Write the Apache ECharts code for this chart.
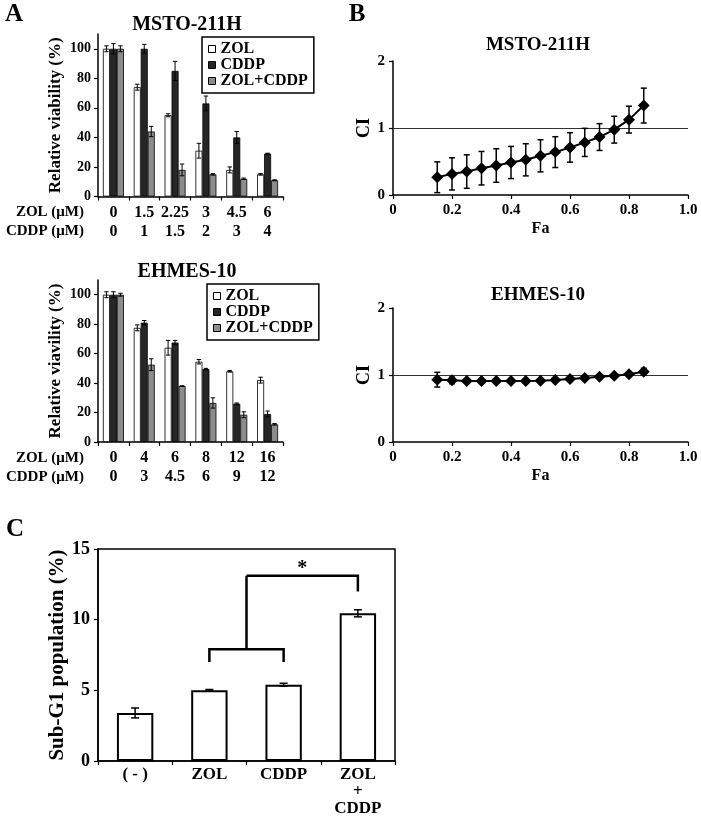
<!DOCTYPE html>
<html><head><meta charset="utf-8">
<script src="https://cdn.jsdelivr.net/npm/echarts@6/dist/echarts.min.js"></script>
<style>html,body{margin:0;padding:0;background:#fff}#c{width:701px;height:817px}</style>
</head><body><div id="c"></div>
<script>
// ---------- Panel A : MSTO-211H ----------
const mstoZolDose = ['0','1.5','2.25','3','4.5','6'];
const mstoCddpDose = ['0','1','1.5','2','3','4'];
const mstoZol = [100, 74, 55, 31, 18, 15];
const mstoZolErr = [2, 2, 1, 5, 2, 0.5];
const mstoCddp = [100, 100, 85, 63, 40, 29];
const mstoCddpErr = [3.5, 3, 6.5, 5, 4, 0.3];
const mstoCombo = [100, 44, 18, 15, 12, 11];
const mstoComboErr = [2, 3.5, 4, 0.5, 0.5, 0.3];
// ---------- Panel A : EHMES-10 ----------
const ehmesZolDose = ['0','4','6','8','12','16'];
const ehmesCddpDose = ['0','3','4.5','6','9','12'];
const ehmesZol = [100, 77.5, 64, 54.5, 48, 42];
const ehmesZolErr = [2, 2, 5, 1.5, 0.5, 2];
const ehmesCddp = [100, 81, 67.5, 49.5, 26, 19];
const ehmesCddpErr = [2, 1.5, 1.5, 0.5, 0.5, 2];
const ehmesCombo = [100, 52.5, 38, 26.5, 18.5, 12];
const ehmesComboErr = [1, 4, 0.2, 3.5, 2, 0.5];
const viabilityTicks = [0, 20, 40, 60, 80, 100];
// ---------- Panel B : CI vs Fa ----------
const faValues = [0.15,0.2,0.25,0.3,0.35,0.4,0.45,0.5,0.55,0.6,0.65,0.7,0.75,0.8,0.85];
const mstoCI = [0.265,0.315,0.35,0.40,0.44,0.485,0.525,0.585,0.64,0.71,0.785,0.865,0.975,1.125,1.335];
const mstoCIErr = [0.23,0.24,0.25,0.25,0.25,0.24,0.24,0.24,0.23,0.22,0.21,0.2,0.2,0.2,0.26];
const ehmesCI = [0.93,0.92,0.91,0.91,0.91,0.91,0.91,0.915,0.925,0.94,0.955,0.975,0.99,1.01,1.05];
const ehmesCIErr = [0.11,0.05,0.02,0.02,0.02,0.02,0.02,0.02,0.02,0.02,0.02,0.02,0.02,0.02,0.05];
// ---------- Panel C : Sub-G1 ----------
const sgCats = ['( - )','ZOL','CDDP','ZOL\n+\nCDDP'];
const sgValues = [3.4, 5.0, 5.4, 10.45];
const sgErr = [0.35, 0.06, 0.1, 0.25];
const bracketLow = [7.0, 7.9];   // foot, bar
const bracketHigh = [12.0, 13.1]; // foot, bar
const starLevel = 13.6;

const FONT = "'Liberation Serif','Times New Roman',serif";
const chart = echarts.init(document.getElementById('c'), null, {renderer:'canvas'});

function groupErr(gi, n, gap) {
  return function (params, api) {
    const c = api.value(0), v = api.value(1), e = api.value(2);
    const bw = api.size([1, 0])[0];
    const barW = bw * (1 - gap) / n;
    const off = (gi - (n - 1) / 2) * barW;
    const t = api.coord([c, v + e]), b = api.coord([c, v - e]);
    const x = t[0] + off, cap = 2.2;
    const st = {stroke: '#000', lineWidth: 1};
    return {type: 'group', children: [
      {type: 'line', shape: {x1: x, y1: t[1], x2: x, y2: b[1]}, style: st},
      {type: 'line', shape: {x1: x - cap, y1: t[1], x2: x + cap, y2: t[1]}, style: st},
      {type: 'line', shape: {x1: x - cap, y1: b[1], x2: x + cap, y2: b[1]}, style: st}
    ]};
  };
}
function xyErr(cap, lw) {
  return function (params, api) {
    const x0 = api.value(0), v = api.value(1), e = api.value(2);
    const t = api.coord([x0, v + e]), b = api.coord([x0, v - e]);
    const x = t[0];
    const st = {stroke: '#000', lineWidth: lw};
    return {type: 'group', children: [
      {type: 'line', shape: {x1: x, y1: t[1], x2: x, y2: b[1]}, style: st},
      {type: 'line', shape: {x1: x - cap, y1: t[1], x2: x + cap, y2: t[1]}, style: st},
      {type: 'line', shape: {x1: x - cap, y1: b[1], x2: x + cap, y2: b[1]}, style: st}
    ]};
  };
}
const withErr = (vals, errs) => vals.map((v, i) => [i, v, errs[i]]);
const xyWithErr = (xs, vals, errs) => xs.map((x, i) => [x, vals[i], errs[i]]);

const GAP = 0.32;
const barColors = {ZOL: '#ffffff', CDDP: '#262626', 'ZOL+CDDP': '#8c8c8c'};
function barSeries(name, xi, yi, vals) {
  return {type: 'bar', name, xAxisIndex: xi, yAxisIndex: yi, data: vals,
    barGap: '0%', barCategoryGap: (GAP * 100) + '%',
    itemStyle: {color: barColors[name], borderColor: '#000', borderWidth: 0.8}};
}
function errSeries(gi, xi, yi, vals, errs) {
  return {type: 'custom', xAxisIndex: xi, yAxisIndex: yi, z: 5,
    renderItem: groupErr(gi, 3, GAP), data: withErr(vals, errs), silent: true};
}

const axisBlack = {lineStyle: {color: '#000', width: 1.5}};
const tickBlack = {show: true, length: 4, lineStyle: {color: '#000', width: 1.2}};
const lblBold = size => ({color: '#000', fontFamily: FONT, fontWeight: 'bold', fontSize: size});

function catAxisPair(grid, zolDose, cddpDose) {
  return [
    {type: 'category', gridIndex: grid, data: zolDose, axisLine: axisBlack, axisTick: tickBlack,
      axisLabel: Object.assign(lblBold(16), {margin: 8, interval: 0})},
    {type: 'category', gridIndex: grid, position: 'bottom', offset: 19, data: cddpDose,
      axisLine: {show: false}, axisTick: {show: false},
      axisLabel: Object.assign(lblBold(16), {margin: 8, interval: 0})}
  ];
}
function viabilityY(grid, name) {
  return {type: 'value', gridIndex: grid, min: 0, max: 110, interval: 20,
    name, nameLocation: 'middle', nameGap: 34,
    nameTextStyle: {color: '#000', fontFamily: FONT, fontWeight: 'bold', fontSize: 17},
    axisLine: Object.assign({show: true}, axisBlack),
    axisTick: Object.assign({customValues: viabilityTicks}, tickBlack),
    axisLabel: Object.assign(lblBold(14), {customValues: viabilityTicks, margin: 7}),
    splitLine: {show: false}};
}
function ciY(grid) {
  return {type: 'value', gridIndex: grid, min: 0, max: 2, interval: 1,
    name: 'CI', nameLocation: 'middle', nameGap: 20,
    nameTextStyle: {color: '#000', fontFamily: FONT, fontWeight: 'bold', fontSize: 18},
    axisLine: Object.assign({show: true}, axisBlack), axisTick: tickBlack,
    axisLabel: Object.assign(lblBold(15), {margin: 8}), splitLine: {show: false}};
}
function faX(grid) {
  return {type: 'value', gridIndex: grid, min: 0, max: 1, interval: 0.2,
    name: 'Fa', nameLocation: 'middle', nameGap: 26,
    nameTextStyle: {color: '#000', fontFamily: FONT, fontWeight: 'bold', fontSize: 16},
    axisLine: axisBlack, axisTick: tickBlack,
    axisLabel: Object.assign(lblBold(15), {margin: 8,
      formatter: v => v === 0 ? '0' : v.toFixed(1)}), splitLine: {show: false}};
}
const legendData = [
  {name: 'ZOL', itemStyle: {color: '#fff', borderColor: '#000', borderWidth: 1}},
  {name: 'CDDP', itemStyle: {color: '#262626', borderColor: '#000', borderWidth: 1}},
  {name: 'ZOL+CDDP', itemStyle: {color: '#8c8c8c', borderColor: '#000', borderWidth: 1}}
];
function legendAt(left, top) {
  return {orient: 'vertical', left, top, data: legendData, icon: 'rect',
    itemWidth: 7, itemHeight: 7, itemGap: 0, padding: [4, 6, 4, 6],
    borderColor: '#000', borderWidth: 1.5, selectedMode: false,
    textStyle: {color: '#000', fontFamily: FONT, fontWeight: 'bold', fontSize: 16, lineHeight: 15}};
}
function ttl(text, x, y, size) {
  return {text, left: x, top: y, padding: 0, textAlign: 'center', textVerticalAlign: 'middle',
    textStyle: {color: '#000', fontFamily: FONT, fontWeight: 'bold', fontSize: size}};
}
function ciSeries(xi, yi, ys, errs, cap) {
  return [
    {type: 'line', xAxisIndex: xi, yAxisIndex: yi, data: faValues.map((f, i) => [f, ys[i]]),
      symbol: 'diamond', symbolSize: 12, itemStyle: {color: '#000'},
      lineStyle: {color: '#000', width: 2}, z: 6,
      markLine: {silent: true, symbol: 'none', label: {show: false},
        lineStyle: {color: '#333', width: 1, type: 'solid'}, data: [{yAxis: 1}]}},
    {type: 'custom', xAxisIndex: xi, yAxisIndex: yi, z: 5, silent: true,
      renderItem: xyErr(cap, 1.5), data: xyWithErr(faValues, ys, errs)}
  ];
}
const rowLbl = (txt, top) => ({type: 'text', right: 701 - 84, top,
  style: {text: txt, fill: '#000', font: 'bold 15px ' + FONT}});

const option = {
  animation: false,
  backgroundColor: '#fff',
  title: [
    ttl('MSTO-211H', 187, 25, 20), ttl('EHMES-10', 187, 272, 20),
    ttl('MSTO-211H', 538, 45, 19), ttl('EHMES-10', 538, 295, 19),
    ttl('A', 14, 15, 25), ttl('B', 357, 15, 25), ttl('C', 15, 530, 25)
  ],
  legend: [legendAt(202, 37), legendAt(207, 284)],
  grid: [
    {left: 98, top: 34, width: 185, height: 162.5},
    {left: 98, top: 280, width: 185, height: 162},
    {left: 393, top: 61, width: 295, height: 134},
    {left: 393, top: 308, width: 295, height: 134},
    {left: 98, top: 549, width: 297, height: 213, show: true, borderColor: '#000', borderWidth: 1.5}
  ],
  xAxis: [
    ...catAxisPair(0, mstoZolDose, mstoCddpDose),
    ...catAxisPair(1, ehmesZolDose, ehmesCddpDose),
    faX(2), faX(3),
    {type: 'category', gridIndex: 4, data: sgCats, axisLine: axisBlack, axisTick: tickBlack,
      axisLabel: Object.assign(lblBold(17), {margin: 5, interval: 0, lineHeight: 17})}
  ],
  yAxis: [
    viabilityY(0, 'Relative viability (%)'),
    viabilityY(1, 'Relative viavility (%)'),
    ciY(2), ciY(3),
    {type: 'value', gridIndex: 4, min: 0, max: 15, interval: 5,
      name: 'Sub-G1 population (%)', nameLocation: 'middle', nameGap: 28,
      nameTextStyle: {color: '#000', fontFamily: FONT, fontWeight: 'bold', fontSize: 21},
      axisLine: Object.assign({show: true}, axisBlack), axisTick: tickBlack,
      axisLabel: Object.assign(lblBold(18), {margin: 8}), splitLine: {show: false}}
  ],
  graphic: [
    rowLbl('ZOL (\u03bcM)', 205), rowLbl('CDDP (\u03bcM)', 224),
    rowLbl('ZOL (\u03bcM)', 451), rowLbl('CDDP (\u03bcM)', 470)
  ],
  series: [
    barSeries('ZOL', 0, 0, mstoZol), barSeries('CDDP', 0, 0, mstoCddp), barSeries('ZOL+CDDP', 0, 0, mstoCombo),
    errSeries(0, 0, 0, mstoZol, mstoZolErr), errSeries(1, 0, 0, mstoCddp, mstoCddpErr), errSeries(2, 0, 0, mstoCombo, mstoComboErr),
    barSeries('ZOL', 2, 1, ehmesZol), barSeries('CDDP', 2, 1, ehmesCddp), barSeries('ZOL+CDDP', 2, 1, ehmesCombo),
    errSeries(0, 2, 1, ehmesZol, ehmesZolErr), errSeries(1, 2, 1, ehmesCddp, ehmesCddpErr), errSeries(2, 2, 1, ehmesCombo, ehmesComboErr),
    ...ciSeries(4, 2, mstoCI, mstoCIErr, 3),
    ...ciSeries(5, 3, ehmesCI, ehmesCIErr, 3),
    {type: 'bar', xAxisIndex: 6, yAxisIndex: 4, data: sgValues, barWidth: '49%',
      itemStyle: {color: '#fff', borderColor: '#000', borderWidth: 2}},
    {type: 'custom', xAxisIndex: 6, yAxisIndex: 4, z: 5, silent: true,
      renderItem: xyErr(4, 1.5), data: withErr(sgValues, sgErr)},
    {type: 'custom', xAxisIndex: 6, yAxisIndex: 4, z: 5, silent: true, data: [[1, bracketLow[0]]],
      renderItem: function (params, api) {
        const x1 = api.coord([1, 0])[0], x2 = api.coord([2, 0])[0], x3 = api.coord([3, 0])[0];
        const y = v => api.coord([1, v])[1];
        const xm = (x1 + x2) / 2;
        const st = {stroke: '#000', lineWidth: 2.5, fill: null};
        return {type: 'group', children: [
          {type: 'polyline', shape: {points: [[x1, y(bracketLow[0])], [x1, y(bracketLow[1])], [x2, y(bracketLow[1])], [x2, y(bracketLow[0])]]}, style: st},
          {type: 'line', shape: {x1: xm, y1: y(bracketLow[1]), x2: xm, y2: y(bracketHigh[1])}, style: st},
          {type: 'polyline', shape: {points: [[xm, y(bracketHigh[1])], [x3, y(bracketHigh[1])], [x3, y(bracketHigh[0])]]}, style: st},
          {type: 'text', style: {text: '*', x: (xm + x3) / 2, y: y(starLevel), align: 'center', verticalAlign: 'middle',
            fill: '#000', font: 'bold 20px ' + FONT}}
        ]};
      }}
  ]
};
chart.setOption(option);
</script></body></html>
